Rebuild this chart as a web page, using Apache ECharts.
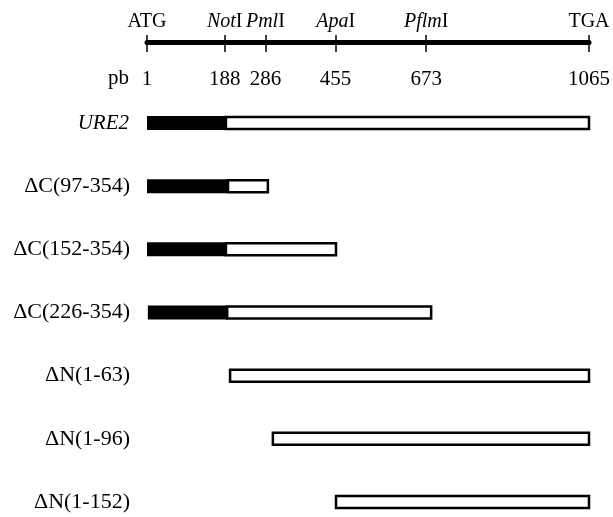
<!DOCTYPE html>
<html><head><meta charset="utf-8">
<script src="https://cdn.jsdelivr.net/npm/echarts@6/dist/echarts.min.js"></script>
<style>html,body{margin:0;padding:0;background:#fff}#c{width:613px;height:517px}</style>
</head><body><div id="c"></div>
<script>
// Constructs (rows, top to bottom)
const constructs = ['URE2', 'ΔC(97-354)', 'ΔC(152-354)', 'ΔC(226-354)', 'ΔN(1-63)', 'ΔN(1-96)', 'ΔN(1-152)'];
// bar extents in bp
const barStart = [1, 1, 1, 3, 201, 304, 456];
const blackEnd = [191, 196, 191, 194, null, null, null];
const barEnd   = [1065, 292, 456, 685, 1065, 1065, 1065];
// restriction map
const siteValues  = [1, 188, 286, 455, 673, 1065];
const siteItalic  = ['', 'Not', 'Pml', 'Apa', 'Pflm', ''];
const siteUpright = ['ATG', 'I', 'I', 'I', 'I', 'TGA'];
const unitLabel = 'pb';

const FONT = "'Liberation Serif','Times New Roman',serif";
const chart = echarts.init(document.getElementById('c'), null, {renderer: 'canvas'});

const data = constructs.map((c, i) => [i, barStart[i], blackEnd[i] == null ? barStart[i] : blackEnd[i], barEnd[i]]);

function siteName(v) {
  const i = siteValues.indexOf(Math.round(v));
  if (i < 0) return '';
  return (siteItalic[i] ? '{i|' + siteItalic[i] + '}' : '') + siteUpright[i];
}

const option = {
  animation: false,
  backgroundColor: '#fff',
  textStyle: {fontFamily: FONT, color: '#000'},
  grid: {left: 147, right: 24, top: 123, bottom: 15},
  xAxis: [
    {
      type: 'value', position: 'top', min: 1, max: 1065, offset: 81,
      splitLine: {show: false},
      axisLine: {show: true, lineStyle: {color: '#000', width: 5}},
      axisTick: {show: true, customValues: siteValues, length: 7, lineStyle: {color: '#000', width: 1.5}},
      axisLabel: {
        customValues: siteValues, margin: 10, color: '#000', fontFamily: FONT, fontSize: 20,
        formatter: siteName,
        rich: {i: {fontStyle: 'italic', fontFamily: FONT, fontSize: 20, color: '#000'}}
      }
    },
    {
      type: 'value', position: 'top', min: 1, max: 1065, offset: 81,
      splitLine: {show: false},
      axisLine: {show: false},
      axisTick: {show: true, inside: true, customValues: siteValues, length: 10, lineStyle: {color: '#000', width: 1.5}},
      axisLabel: {
        inside: true, customValues: siteValues, margin: 27, color: '#000', fontFamily: FONT, fontSize: 21,
        formatter: v => String(Math.round(v))
      }
    }
  ],
  yAxis: {
    type: 'category', data: constructs, inverse: true, boundaryGap: false,
    axisLine: {show: false}, axisTick: {show: false}, splitLine: {show: false},
    axisLabel: {
      interval: 0, margin: 17, color: '#000', fontFamily: FONT, fontSize: 22,
      formatter: v => v === 'URE2' ? '{i|' + v + '}' : v,
      rich: {i: {fontStyle: 'italic', fontFamily: FONT, fontSize: 21, color: '#000', padding: [0, 1, 0, 0]}}
    }
  },
  graphic: [{
    type: 'text', left: 108, top: 68,
    style: {text: unitLabel, font: "21px 'Liberation Serif', serif", fill: '#000'}
  }],
  series: [{
    type: 'custom',
    xAxisIndex: 0,
    encode: {x: [1, 2, 3], y: 0},
    data: data,
    renderItem: function (params, api) {
      const row = api.value(0);
      const s = api.coord([api.value(1), row]);
      const b = api.coord([api.value(2), row]);
      const e = api.coord([api.value(3), row]);
      const y = s[1];
      const children = [];
      if (b[0] > s[0]) {
        children.push({type: 'rect', shape: {x: s[0], y: y - 7, width: b[0] - s[0], height: 14}, style: {fill: '#000'}});
      }
      children.push({type: 'rect', shape: {x: b[0], y: y - 6, width: e[0] - b[0], height: 12}, style: {fill: '#fff', stroke: '#000', lineWidth: 2.5}});
      return {type: 'group', children: children};
    }
  }]
};
chart.setOption(option);
</script>
</body></html>
